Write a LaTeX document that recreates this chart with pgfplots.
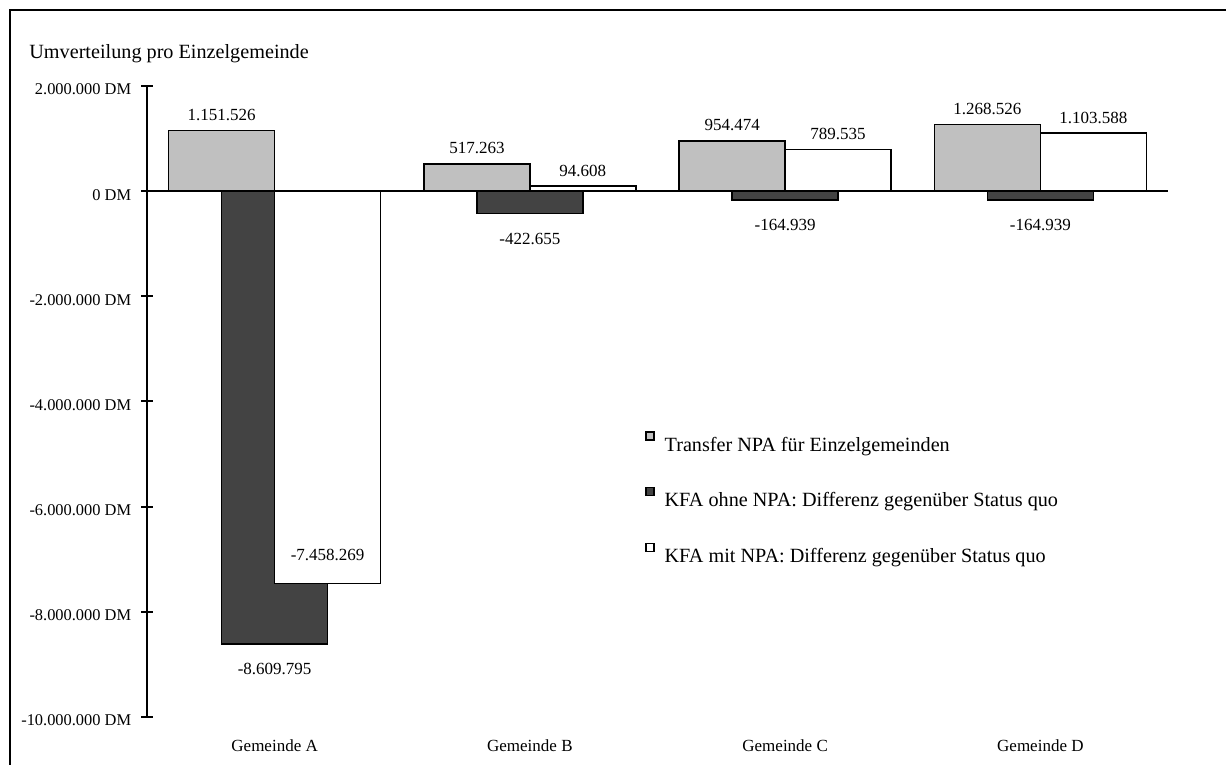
\documentclass[border=0pt]{standalone}
\usepackage{fontspec}
\setmainfont{Liberation Serif}
\usepackage{pgfplots}
\pgfplotsset{compat=1.18}
\definecolor{barlight}{HTML}{C0C0C0}
\definecolor{bardark}{HTML}{434343}
\newcommand{\lbl}{\fontsize{8.5}{10}\selectfont}
\newcommand{\bigf}{\fontsize{10.1}{12}\selectfont}
\pgfplotsset{sqlegend/.style={legend image code/.code={\draw[##1,line width=0.6pt] (0pt,2.8pt) rectangle (4pt,6.8pt);}}}
\begin{document}
\begin{tikzpicture}
\path[use as bounding box] (0,0) rectangle (613pt,382.5pt);
\draw[line width=1.2pt] (5pt,0) -- (5pt,377.5pt) -- (613pt,377.5pt);
\node[anchor=base west, font=\bigf, inner sep=0pt] at (14.5pt,353pt) {Umverteilung pro Einzelgemeinde};
\begin{axis}[
  scale only axis, width=510.5pt, height=315.5pt,
  at={(73.5pt,24pt)}, anchor=south west,
  xmin=-0.5, xmax=3.5, ymin=-10000000, ymax=2000000,
  axis y line*=left, axis x line*=bottom,
  x axis line style={draw=none},
  y axis line style={line width=1pt},
  xtick={0,1,2,3},
  xticklabels={Gemeinde A,Gemeinde B,Gemeinde C,Gemeinde D},
  xtick style={draw=none},
  xticklabel style={font=\lbl, anchor=base, inner sep=0pt, yshift=-12pt},
  ytick={-10000000,-8000000,-6000000,-4000000,-2000000,0,2000000},
  yticklabels={-10.000.000 DM,-8.000.000 DM,-6.000.000 DM,-4.000.000 DM,-2.000.000 DM,0 DM,2.000.000 DM},
  yticklabel style={font=\fontsize{8.2}{10}\selectfont, anchor=east, inner sep=0pt, xshift=-5pt, yshift=-1.75pt},
  tick align=center, major tick length=5.5pt,
  ytick style={line width=1pt, black},
  scaled y ticks=false,
  ybar, bar width=0.415,
  clip=false,
  point meta=explicit symbolic,
  legend style={draw=none, fill=none, at={(0.4878,0.4533)}, anchor=north west,
    inner sep=0pt, font=\bigf, row sep=16.5pt, column sep=5pt,
    nodes={inner sep=0pt}},
  legend cell align=left,
]
\addplot[fill=barlight, draw=black, line width=0.8pt, bar shift=-0.2075,
  nodes near coords, nodes near coords style={font=\lbl, anchor=south, inner xsep=0pt, inner ysep=4.5pt},
  sqlegend]
  coordinates {(0,1151526) [1.151.526] (1,517263) [517.263] (2,954474) [954.474] (3,1268526) [1.268.526]};
\addlegendentry{Transfer NPA für Einzelgemeinden}
\addplot[fill=bardark, draw=black, line width=0.8pt, bar shift=0,
  nodes near coords, nodes near coords style={font=\lbl, anchor=north, inner xsep=0pt, inner ysep=9.5pt},
  sqlegend]
  coordinates {(0,-8609795) [-8.609.795] (1,-422655) [-422.655] (2,-164939) [-164.939] (3,-164939) [-164.939]};
\addlegendentry{KFA ohne NPA: Differenz gegenüber Status quo}
\addplot[fill=white, draw=black, line width=0.8pt, bar shift=0.2075,
  nodes near coords, nodes near coords style={font=\lbl, anchor=south, inner xsep=0pt, inner ysep=4.5pt},
  sqlegend]
  coordinates {(0,-7458269) [\phantom{0}] (1,94608) [94.608] (2,789535) [789.535] (3,1103588) [1.103.588]};
\addlegendentry{KFA mit NPA: Differenz gegenüber Status quo}
\node[anchor=base, font=\lbl, inner sep=0pt, yshift=11.5pt] at (axis cs:0.2075,-7458269) {-7.458.269};
\draw[line width=1pt] (axis cs:-0.5,0) -- (axis cs:3.5,0);
\end{axis}
\end{tikzpicture}
\end{document}
